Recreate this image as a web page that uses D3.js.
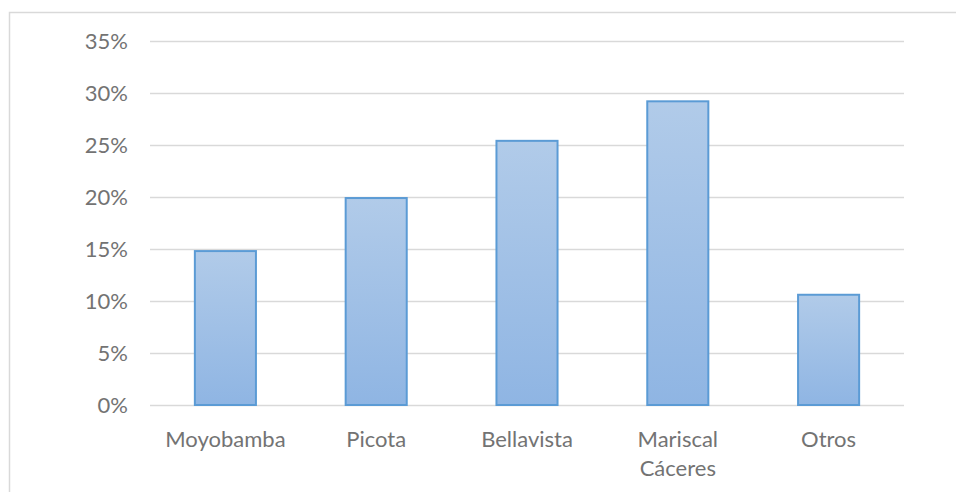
<!DOCTYPE html>
<html>
<head>
<meta charset="utf-8">
<script src="https://cdn.jsdelivr.net/npm/d3@7"></script>
<style>
  html, body { margin: 0; padding: 0; background: #fff; }
  svg { display: block; }
</style>
</head>
<body>
<svg id="chart" width="956" height="492"></svg>
<script>
// Distribución por provincia
const categories = ["Moyobamba", "Picota", "Bellavista", "Mariscal Cáceres", "Otros"];
const values = [14.8, 19.9, 25.4, 29.2, 10.6];
const yTicks = [0, 5, 10, 15, 20, 25, 30, 35];
const yTickLabels = ["0%", "5%", "10%", "15%", "20%", "25%", "30%", "35%"];

const width = 956, height = 492;
const margin = { top: 41, right: 52, bottom: 87, left: 150 };
const font = "Lato, 'Open Sans', sans-serif";
const fontSize = 22;
const textColor = "#737373";

const svg = d3.select("#chart");

// chart area frame (left and top edges visible)
svg.append("path")
  .attr("d", `M9.5,${height + 2} V12.5 H${width + 2}`)
  .attr("fill", "none")
  .attr("stroke", "#d9d9d9")
  .attr("stroke-width", 1.5);

const x = d3.scaleBand()
  .domain(categories)
  .range([margin.left, width - margin.right])
  .paddingInner(0.595)
  .paddingOuter(0.2975);

const y = d3.scaleLinear()
  .domain([0, 35])
  .range([height - margin.bottom, margin.top]);

// gradient for bars
const defs = svg.append("defs");
const grad = defs.append("linearGradient")
  .attr("id", "barFill")
  .attr("x1", 0).attr("y1", 0).attr("x2", 0).attr("y2", 1);
grad.append("stop").attr("offset", "0%").attr("stop-color", "#b1cbe9");
grad.append("stop").attr("offset", "100%").attr("stop-color", "#8fb5e3");

// gridlines + y labels via axis
const yAxis = d3.axisLeft(y)
  .tickValues(yTicks)
  .tickFormat((d, i) => yTickLabels[i])
  .tickSize(-(width - margin.left - margin.right))
  .tickPadding(22);

const gy = svg.append("g")
  .attr("transform", `translate(${margin.left},0)`)
  .call(yAxis);
gy.select(".domain").remove();
gy.selectAll(".tick line")
  .attr("stroke", "#d9d9d9")
  .attr("stroke-width", 1.5);
gy.selectAll(".tick text")
  .attr("fill", textColor)
  .style("font-family", font)
  .style("font-size", fontSize + "px");

// bars
svg.append("g")
  .selectAll("rect")
  .data(categories)
  .join("rect")
  .attr("x", d => x(d))
  .attr("y", (d, i) => y(values[i]))
  .attr("width", x.bandwidth())
  .attr("height", (d, i) => y(0) - y(values[i]))
  .attr("fill", "url(#barFill)")
  .attr("stroke", "#5b9bd5")
  .attr("stroke-width", 2);

// x axis labels
const xAxis = d3.axisBottom(x).tickSize(0).tickPadding(26);
const gx = svg.append("g")
  .attr("transform", `translate(0,${y(0)})`)
  .call(xAxis);
gx.select(".domain").remove();
gx.selectAll(".tick text")
  .attr("fill", textColor)
  .style("font-family", font)
  .style("font-size", fontSize + "px")
  .each(function (d) {
    const t = d3.select(this);
    const words = d.split(" ");
    const full = t.node().getComputedTextLength();
    if (words.length > 1 && full > x.step() * 0.9) {
      const dy = t.attr("dy");
      t.text(null);
      words.forEach((w, i) => {
        t.append("tspan")
          .attr("x", 0)
          .attr("dy", i === 0 ? dy : "1.32em")
          .text(w);
      });
    }
  });
</script>
</body>
</html>
